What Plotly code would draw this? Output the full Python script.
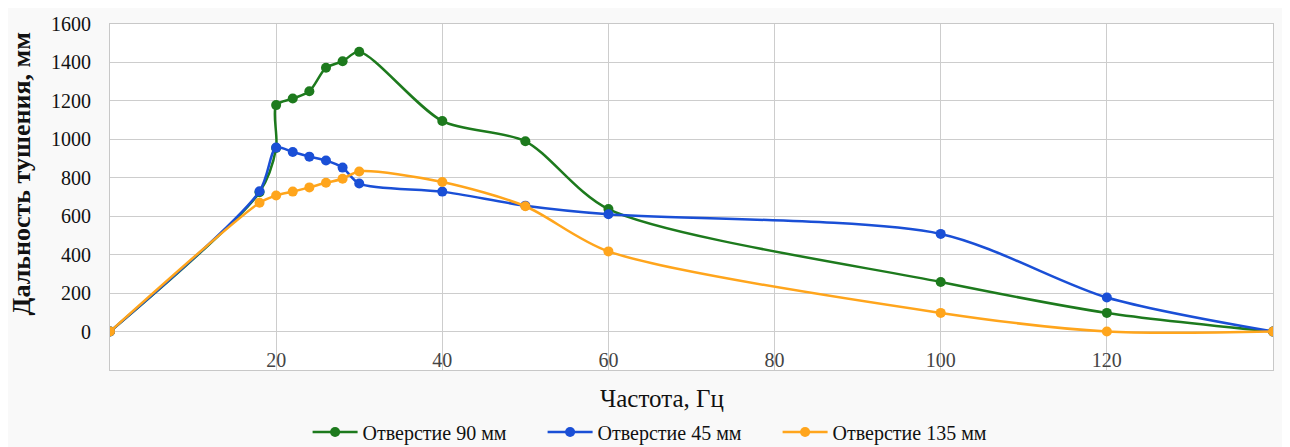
import plotly.graph_objects as go

# Data
freq_90 = [0, 18, 20, 20, 22, 24, 26, 28, 30, 40, 50, 60, 100, 120, 140]
range_90 = [0, 725, 955, 1178, 1212, 1250, 1372, 1406, 1455, 1095, 990, 637, 258, 97, 0]

freq_45 = [0, 18, 20, 22, 24, 26, 28, 30, 40, 50, 60, 100, 120, 140]
range_45 = [0, 730, 957, 934, 910, 890, 853, 770, 728, 655, 610, 508, 177, 0]

freq_135 = [0, 18, 20, 22, 24, 26, 28, 30, 40, 50, 60, 100, 120, 140]
range_135 = [0, 670, 708, 728, 750, 774, 795, 833, 778, 652, 417, 97, 0, 0]

x_tick_vals = [0, 20, 40, 60, 80, 100, 120, 140]
x_tick_text = ["", "20", "40", "60", "80", "100", "120", "140"]
y_tick_vals = [-200, 0, 200, 400, 600, 800, 1000, 1200, 1400, 1600]
y_tick_text = ["", "0", "200", "400", "600", "800", "1000", "1200", "1400", "1600"]

names = ["Отверстие 90 мм", "Отверстие 45 мм", "Отверстие 135 мм"]
colors = ["#1d7a1d", "#1a4fd6", "#ffa51c"]
x_title = "Частота, Гц"
y_title = "Дальность тушения, мм"

FONT = "Liberation Serif"

fig = go.Figure()
for xs, ys, name, color in [
    (freq_90, range_90, names[0], colors[0]),
    (freq_45, range_45, names[1], colors[1]),
    (freq_135, range_135, names[2], colors[2]),
]:
    fig.add_trace(go.Scatter(
        x=xs, y=ys, name=name, mode="lines+markers",
        line=dict(color=color, width=2.5, shape="spline", smoothing=0.8),
        marker=dict(color=color, size=10),
    ))

fig.update_layout(
    width=1290, height=447,
    margin=dict(l=102, r=25, t=16, b=85),
    paper_bgcolor="#f9f9f9",
    plot_bgcolor="white",
    font=dict(family=FONT, color="#111111", size=18),
    showlegend=True,
    legend=dict(orientation="h", x=0.473, xanchor="center",
                y=0.0515, yref="container", yanchor="middle",
                font=dict(family=FONT, size=20), bgcolor="rgba(0,0,0,0)",
                itemwidth=45, entrywidth=175, entrywidthmode="pixels"),
    annotations=[
        dict(text=x_title, xref="paper", yref="paper", x=0.4747, y=-0.081,
             xanchor="center", yanchor="middle", showarrow=False,
             font=dict(family=FONT, size=25, color="#111111")),
        dict(text="<b>" + y_title + "</b>", xref="paper", yref="paper", x=-0.0757, y=0.568,
             xanchor="center", yanchor="middle", showarrow=False, textangle=-90,
             font=dict(family=FONT, size=26, color="#111111")),
    ],
)
fig.update_xaxes(
    range=[0, 140], tickvals=x_tick_vals, ticktext=x_tick_text,
    ticklabelposition="inside", showgrid=True, gridcolor="#cdcdcd", gridwidth=1,
    zeroline=False, showline=True, linecolor="#c8c8c8", mirror=True,
    automargin=False,
    tickfont=dict(family=FONT, size=20),
)
fig.update_yaxes(
    range=[-200, 1600], tickvals=y_tick_vals, ticktext=y_tick_text,
    showgrid=True, gridcolor="#cdcdcd", gridwidth=1, zeroline=False,
    showline=True, linecolor="#c8c8c8", mirror=True, automargin=False,
    ticks="", ticklabelstandoff=14,
    tickfont=dict(family=FONT, size=20),
)

fig.write_html("out.html")
